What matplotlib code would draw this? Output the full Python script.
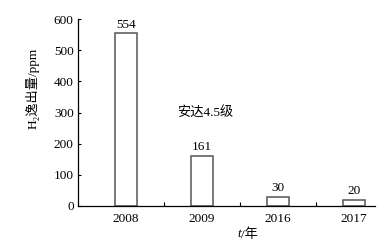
import numpy as np
import matplotlib
matplotlib.use('Agg')
import matplotlib.pyplot as plt
from matplotlib.ticker import FixedLocator

plt.rcParams['font.family'] = ['Liberation Serif', 'Noto Sans CJK SC']
plt.rcParams['font.size'] = 9.5

years = ['2008', '2009', '2016', '2017']
h2 = [554, 161, 30, 20]
note = '安达4.5级'

x = np.arange(len(years))

fig = plt.figure(figsize=(3.8, 2.47), dpi=100)
ax = fig.add_axes([0.205, 0.166, 0.782, 0.757])

bars = ax.bar(x, h2, width=0.29, facecolor='white', edgecolor='#555555', linewidth=1.1)
for xi, v in zip(x, h2):
    ax.text(xi, v + 8, str(v), ha='center', va='bottom')

ax.text(0.67, 298, note, ha='left', va='center')

ax.set_xlim(-0.63, 3.28)
ax.set_ylim(0, 600)
ax.set_xticks(x)
ax.set_xticklabels(years)
ax.xaxis.set_minor_locator(FixedLocator([0.5, 1.5, 2.5]))
ax.tick_params(axis='x', which='major', length=0, pad=5)
ax.tick_params(axis='x', which='minor', direction='in', length=3, width=0.8)
ax.set_yticks([0, 100, 200, 300, 400, 500, 600])
ax.tick_params(axis='y', direction='in', length=2, width=0.8, pad=3)

ax.spines['top'].set_visible(False)
ax.spines['right'].set_visible(False)
ax.spines['left'].set_linewidth(0.9)
ax.spines['bottom'].set_linewidth(0.9)

ax.set_ylabel('H₂逸出量/ppm')
ax.yaxis.set_label_coords(-0.13, 0.63)

# x label: italic t + /年
ax.text(0.548, -0.12, 't', style='italic', ha='right', va='top', transform=ax.transAxes)
ax.text(0.548, -0.12, '/年', ha='left', va='top', transform=ax.transAxes)

fig.savefig('out.png', dpi=100)
